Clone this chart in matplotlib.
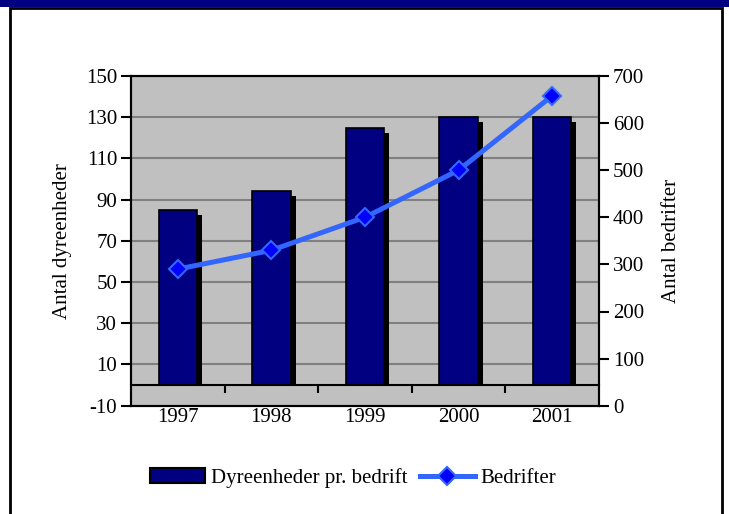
import matplotlib
matplotlib.use("Agg")
import matplotlib.pyplot as plt
import matplotlib.patheffects as pe
from matplotlib.patches import Rectangle, Patch
import numpy as np

years = ["1997", "1998", "1999", "2000", "2001"]
dyreenheder = [85, 94, 125, 130, 130]
bedrifter = [290, 330, 400, 500, 658]
left_ticks = [-10, 10, 30, 50, 70, 90, 110, 130, 150]
right_ticks = [0, 100, 200, 300, 400, 500, 600, 700]

plt.rcParams['font.family'] = ['Liberation Serif', 'DejaVu Serif']
plt.rcParams['axes.unicode_minus'] = False
FS = 15

W, H = 729, 514
fig = plt.figure(figsize=(W / 100, H / 100), dpi=100)
fig.patch.set_facecolor('white')

# frame decorations
fig.patches.append(Rectangle((0, 1 - 7 / H), 1, 7 / H, transform=fig.transFigure,
                             facecolor='#000080', edgecolor='none', zorder=0))
fig.patches.append(Rectangle((10 / W, -0.05), 712 / W, 1 - 8 / H + 0.05, transform=fig.transFigure,
                             facecolor='none', edgecolor='black', lw=2, zorder=0))

ax = fig.add_axes([131 / W, (H - 405.7) / H, 468 / W, 329.7 / H])
ax.set_facecolor('#C0C0C0')
x = np.arange(len(years))

bars = ax.bar(x, dyreenheder, width=0.41, color='#000080', edgecolor='black', linewidth=1.2,
              zorder=2)
for b in bars:
    b.set_path_effects([pe.SimplePatchShadow(offset=(3.6, -3.6), shadow_rgbFace='black', alpha=1.0),
                        pe.Normal()])

# cover region below zero (bar shadows must not extend past the zero line)
ax.axhspan(-10, 0, color='#C0C0C0', zorder=2.5, lw=0)

ax.set_xlim(-0.5, len(years) - 0.5)
ax.set_ylim(-10, 150)
ax.set_yticks(left_ticks)
ax.set_xticks(x)
ax.set_xticklabels(years, fontsize=FS)
ax.tick_params(axis='x', length=0, pad=2)
ax.tick_params(axis='y', direction='out', length=7, width=1.5, labelsize=FS, pad=3)
ax.yaxis.grid(True, color='#808080', lw=1.5, zorder=1)
ax.set_axisbelow(True)
for s in ax.spines.values():
    s.set_linewidth(1.5)
    s.set_color('black')
ax.set_ylabel('Antal dyreenheder', fontsize=FS, labelpad=10)

# category axis crossing at zero
sec = ax.secondary_xaxis(10 / 160)
sec.set_zorder(4)
sec.set_xticks(np.arange(0.5, len(years) - 0.5, 1.0))
sec.set_xticklabels([])
sec.tick_params(axis='x', direction='out', length=6, width=1.5, color='black')
sec.spines['bottom'].set_linewidth(1.5)
sec.spines['bottom'].set_color('black')

ax2 = ax.twinx()
ax2.set_ylim(0, 700)
ax2.set_yticks(right_ticks)
ax2.tick_params(axis='y', direction='out', length=7, width=1.5, labelsize=FS, pad=3)
for s in ax2.spines.values():
    s.set_linewidth(1.5)
line, = ax2.plot(x, bedrifter, color='#3366FF', lw=3.6, marker='D', markersize=9,
                 markerfacecolor='#0000FF', markeredgecolor='#3366FF', markeredgewidth=1.5,
                 zorder=5)
ax2.set_ylabel('Antal bedrifter', fontsize=FS, rotation=90, labelpad=13)

bar_handle = Patch(facecolor='#000080', edgecolor='black', linewidth=1.5)
fig.legend([bar_handle, line], ['Dyreenheder pr. bedrift', 'Bedrifter'], loc='center',
           bbox_to_anchor=(353 / W, 1 - 478 / H), ncol=2, frameon=False, fontsize=FS,
           handlelength=2.65, handletextpad=0.25, columnspacing=0.6, borderpad=0)

fig.savefig('out.png', dpi=100)
